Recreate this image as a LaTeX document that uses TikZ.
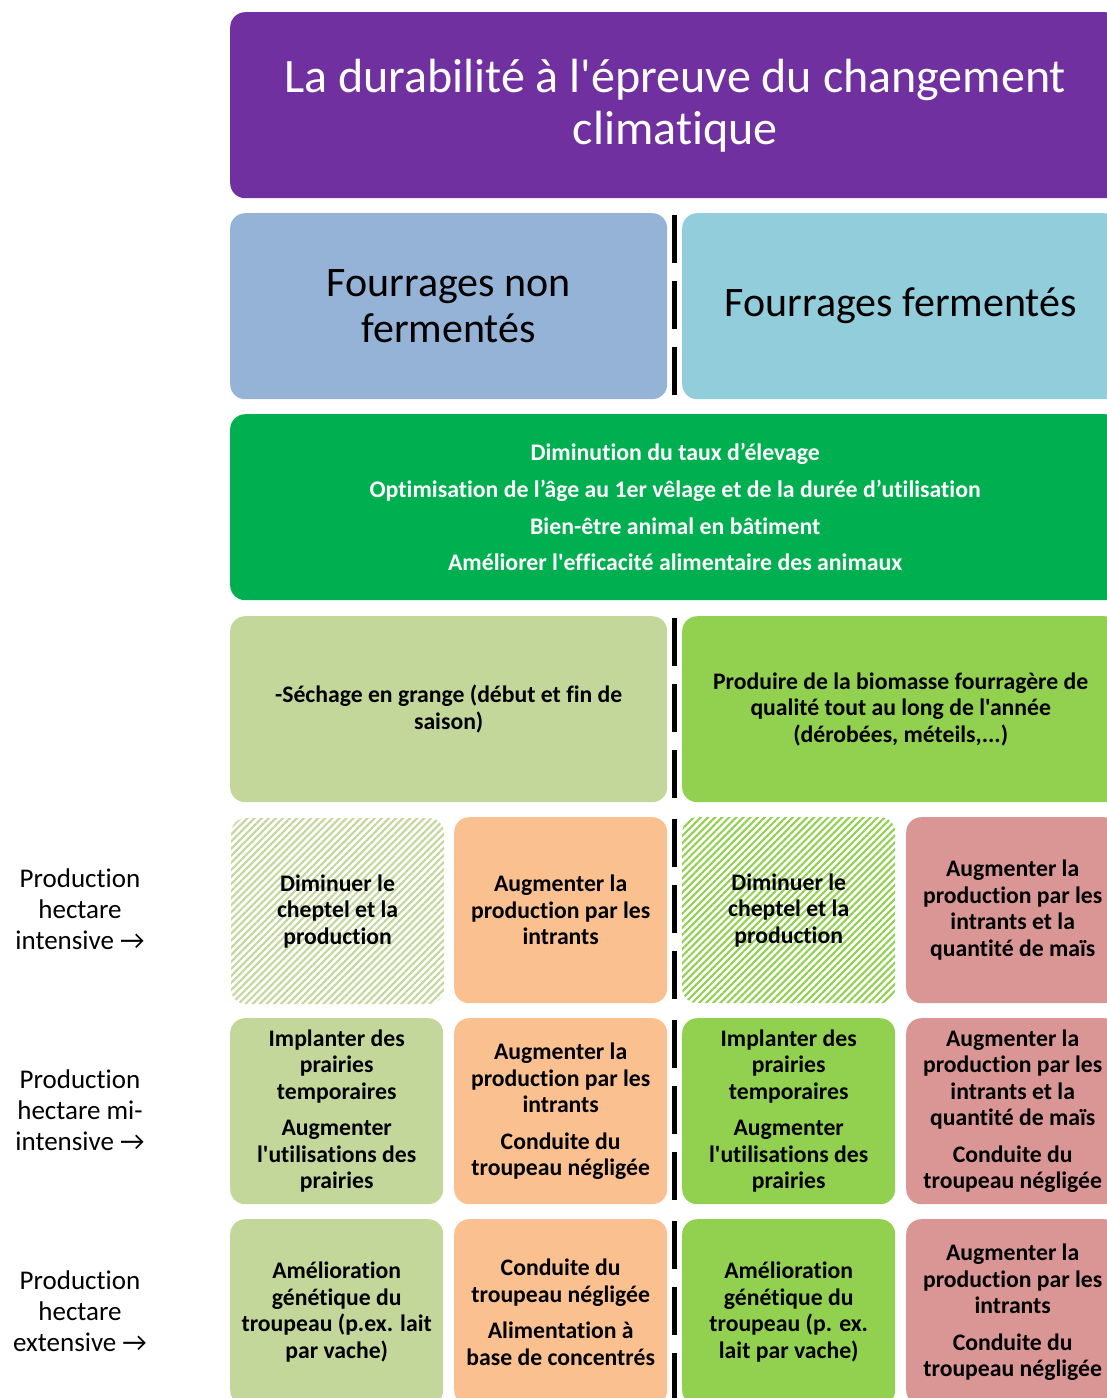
\documentclass[tikz,border=0pt]{standalone}
\usepackage{fontspec}
\setmainfont{Carlito}[Ligatures={TeXOff,NoCommon}]
\usetikzlibrary{patterns.meta}

\definecolor{titlepurple}{HTML}{7030A0}
\definecolor{bluegrey}{HTML}{95B3D7}
\definecolor{skyblue}{HTML}{92CDDC}
\definecolor{deepgreen}{HTML}{00B050}
\definecolor{olivegreen}{HTML}{C4D79B}
\definecolor{limegreen}{HTML}{92D050}
\definecolor{peach}{HTML}{FAC090}
\definecolor{rose}{HTML}{DA9694}

\begin{document}
\begin{tikzpicture}[
		x=1pt, y=-1pt,
		box/.style={rectangle, rounded corners=15pt, inner sep=0pt, align=center, anchor=north west},
		widebox/.style={box, minimum width=890pt, minimum height=186pt},
		halfbox/.style={box, minimum width=437pt, minimum height=186pt},
		cell/.style={box, minimum width=213pt, minimum height=186pt,
			font=\fontsize{23.7}{26.5}\selectfont\bfseries},
		hatched/.style={pattern={Lines[angle=45, distance=5pt, line width=2.1pt]}, pattern color=#1},
		rowlabel/.style={align=center, font=\fontsize{27}{31}\selectfont},
		sepline/.style={line width=5.5pt, dash pattern=on 48pt off 18pt}
	]
  \clip (0,0) rectangle (1107,1398);
  \fill[white] (0,0) rectangle (1107,1398);

  % title and the two kinds of forage
  \node (title) [widebox, fill=titlepurple, text=white, font=\fontsize{48}{52}\selectfont] at (230,12)
    {La durabilité à l'épreuve du changement\\climatique};
  \node (nonferm) [halfbox, fill=bluegrey, font=\fontsize{42}{46}\selectfont] at (230,213)
    {Fourrages non\\fermentés};
  \node (ferm) [halfbox, fill=skyblue, font=\fontsize{42}{46}\selectfont] at (682,213)
    {Fourrages fermentés};

  % common measures
  \node (common) [widebox, fill=deepgreen, text=white, font=\fontsize{23.8}{36.7}\selectfont\bfseries] at (230,414)
    {Diminution du taux d’élevage\\Optimisation de l’âge au 1er vêlage et de la durée d’utilisation\\Bien-être animal en bâtiment\\Améliorer l'efficacité alimentaire des animaux};

  \node (sechage) [halfbox, fill=olivegreen, font=\fontsize{23.7}{26.5}\selectfont\bfseries] at (230,616)
    {-Séchage en grange (début et fin de\\saison)};
  \node (biomasse) [halfbox, fill=limegreen, font=\fontsize{23.7}{26.5}\selectfont\bfseries] at (682,616)
    {Produire de la biomasse fourragère de\\qualité tout au long de l'année\\(dérobées, méteils,...)};

  % intensive
  \node (int_a) [cell, hatched=olivegreen] at (230,817) {Diminuer le\\cheptel et la\\production};
  \node (int_b) [cell, fill=peach] at (454,817) {Augmenter la\\production par les\\intrants};
  \node (int_c) [cell, hatched=limegreen] at (682,817) {Diminuer le\\cheptel et la\\production};
  \node (int_d) [cell, fill=rose] at (906,817) {Augmenter la\\production par les\\intrants et la\\quantité de maïs};

  % mi-intensive
  \node (mid_a) [cell, fill=olivegreen] at (230,1018)
    {Implanter des\\prairies\\temporaires\\[10pt]Augmenter\\l'utilisations des\\prairies};
  \node (mid_b) [cell, fill=peach] at (454,1018)
    {Augmenter la\\production par les\\intrants\\[10pt]Conduite du\\troupeau négligée};
  \node (mid_c) [cell, fill=limegreen] at (682,1018)
    {Implanter des\\prairies\\temporaires\\[10pt]Augmenter\\l'utilisations des\\prairies};
  \node (mid_d) [cell, fill=rose] at (906,1018)
    {Augmenter la\\production par les\\intrants et la\\quantité de maïs\\[10pt]Conduite du\\troupeau négligée};

  % extensive
  \node (ext_a) [cell, fill=olivegreen] at (230,1219)
    {Amélioration\\génétique du\\troupeau (p.ex. lait\\par vache)};
  \node (ext_b) [cell, fill=peach] at (454,1219)
    {Conduite du\\troupeau négligée\\[10pt]Alimentation à\\base de concentrés};
  \node (ext_c) [cell, fill=limegreen] at (682,1219)
    {Amélioration\\génétique du\\troupeau (p. ex.\\lait par vache)};
  \node (ext_d) [cell, fill=rose] at (906,1219)
    {Augmenter la\\production par les\\intrants\\[10pt]Conduite du\\troupeau négligée};

  \node (lab_int) [rowlabel] at (80,909) {Production\\hectare\\intensive →};
  \node (lab_mid) [rowlabel] at (80,1110) {Production\\hectare mi-\\intensive →};
  \node (lab_ext) [rowlabel] at (80,1311) {Production\\hectare\\extensive →};

  % dashed separators
  \foreach \top in {213,616,817,1018,1219}
    \draw[sepline] (674.5,\top+2) -- (674.5,\top+184);
\end{tikzpicture}
\end{document}
